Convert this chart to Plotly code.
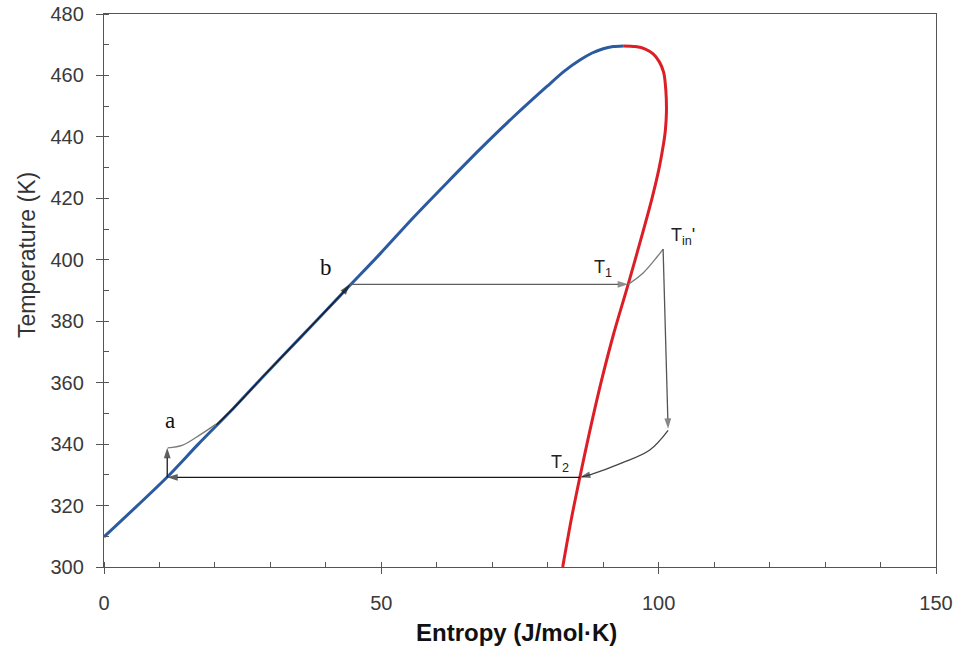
import plotly.graph_objects as go

# Saturated liquid (blue) and saturated vapour (red) curves
s_liq = [0, 11.4, 17, 23.3, 29, 35.3, 40, 44.3, 49.8, 55.7, 61.8, 67.8, 73.7, 79.9, 83.0, 85.8, 88.0, 90.0, 91.8, 93.6]
T_liq = [309.8, 329.3, 340, 351.6, 362.6, 374.5, 383.4, 391.6, 402.0, 413.6, 425.0, 436.0, 446.3, 456.5, 461.4, 465.0, 467.3, 468.7, 469.4, 469.6]

s_vap = [93.6, 95.8, 97.6, 99.0, 100.1, 100.9, 101.3, 101.4, 101.2, 100.9, 100.1, 98.8, 97.0, 94.5, 91.9, 89.6, 87.5, 85.8, 84.3, 82.7]
T_vap = [469.6, 469.4, 468.6, 467.0, 464.5, 461.0, 455.0, 448.0, 442.0, 438.0, 430.0, 420.0, 408.0, 392.0, 376.0, 360.0, 343.6, 329.3, 316.0, 300.0]

# Cycle state points
T1 = (94.5, 392.0)
T2 = (85.8, 329.2)
b_pt = (44.3, 392.0)
a_low = (11.4, 329.2)
a_top = (11.4, 338.8)
Tin_pk = (100.8, 403.5)
drop_end = (101.7, 345.0)

# Connector curves
s_t1_tin = [94.5, 97.2, 99.7, 100.8]
T_t1_tin = [392.0, 395.7, 400.9, 403.5]
s_drop_t2 = [101.7, 98.4, 93.4, 87.6, 86.2]
T_drop_t2 = [344.5, 338.1, 333.9, 330.0, 329.3]
s_a_curve = [11.5, 14.2, 17.3, 20.2]
T_a_curve = [338.8, 339.7, 343.0, 346.5]
s_ab = [20.2, 23.3, 29, 35.3, 40, 43.3]
T_ab = [346.2, 351.6, 362.6, 374.5, 383.4, 389.7]

x_ticks = [0, 50, 100, 150]
y_ticks = [300, 320, 340, 360, 380, 400, 420, 440, 460, 480]

BLUE = "#2c5aa0"
RED = "#dc1f26"
GRAY = "#7a7a7a"
DARK = "#1a1a1a"

fig = go.Figure()
fig.add_trace(go.Scatter(x=s_liq, y=T_liq, mode="lines",
                         line=dict(color=BLUE, width=3, shape="spline", smoothing=0.8), hoverinfo="skip"))
fig.add_trace(go.Scatter(x=s_vap, y=T_vap, mode="lines",
                         line=dict(color=RED, width=3, shape="spline", smoothing=0.8), hoverinfo="skip"))
# overlay path a->b along liquid line
fig.add_trace(go.Scatter(x=s_ab, y=T_ab, mode="lines",
                         line=dict(color=DARK, width=1.2, shape="spline"), hoverinfo="skip"))
fig.add_trace(go.Scatter(x=s_t1_tin, y=T_t1_tin, mode="lines",
                         line=dict(color=GRAY, width=1.3, shape="spline"), hoverinfo="skip"))
fig.add_trace(go.Scatter(x=s_drop_t2, y=T_drop_t2, mode="lines",
                         line=dict(color="#444444", width=1.3, shape="spline"), hoverinfo="skip"))
fig.add_trace(go.Scatter(x=s_a_curve, y=T_a_curve, mode="lines",
                         line=dict(color=GRAY, width=1.3, shape="spline"), hoverinfo="skip"))


def arrow(head, tail, color, width=1.3, size=11, line=True):
    fig.add_trace(go.Scatter(
        x=[tail[0], head[0]], y=[tail[1], head[1]],
        mode="lines+markers" if line else "markers",
        line=dict(color=color, width=width),
        marker=dict(symbol="arrow", size=[0, size], angleref="previous", color=color,
                    line=dict(width=0)),
        hoverinfo="skip"))


# b -> T1 horizontal
arrow(T1, b_pt, "#5e5e5e")
# T2 -> a_low horizontal
arrow(a_low, T2, DARK)
# a_low -> a_top vertical
arrow(a_top, a_low, DARK)
# Tin' peak -> drop end vertical
arrow(drop_end, Tin_pk, "#555555")
# arrowhead at T2 from curve
arrow(T2, (s_drop_t2[-2], T_drop_t2[-2]), "#333333", line=False)
# arrowhead at b along the curve
arrow(b_pt, (s_ab[-1], T_ab[-1]), DARK, line=False)

W, H = 961, 651
ML, MT, MR, MB = 104, 14, 25, 84
pw, ph = W - ML - MR, H - MT - MB


def px(x_page):
    return (x_page - ML) / pw


def py(y_page):
    return (H - MB - y_page) / ph


# Labels
serif = dict(family="Liberation Serif, Times New Roman, serif", size=23, color="#111111")
sans = dict(family="Liberation Sans, Arial, sans-serif", size=18, color="#222222")
fig.add_annotation(x=11.9, y=347.8, text="a", showarrow=False, font=serif)
fig.add_annotation(x=40.0, y=397.5, text="b", showarrow=False, font=serif)
fig.add_annotation(x=90.0, y=397.0, text="T<sub>1</sub>", showarrow=False, font=sans)
fig.add_annotation(x=82.2, y=333.6, text="T<sub>2</sub>", showarrow=False, font=sans)
fig.add_annotation(x=104.4, y=407.6, text="T<sub>in</sub>'", showarrow=False, font=sans)

fig.add_annotation(x=px(27), y=py(255), xref="paper", yref="paper", text="Temperature (K)",
                   showarrow=False, textangle=-90, xanchor="center", yanchor="middle",
                   font=dict(family="Liberation Sans, Arial", size=23, color="#333333"))
fig.add_annotation(x=px(516), y=py(632), xref="paper", yref="paper",
                   text="<b>Entropy (J/mol·K)</b>", showarrow=False,
                   xanchor="center", yanchor="middle",
                   font=dict(family="Liberation Sans, Arial", size=24, color="#111111"))

axis_common = dict(showgrid=False, zeroline=False, showline=True, linecolor="#555555", linewidth=1.3,
                   mirror=True, ticks="outside", tickcolor="#555555", automargin=False,
                   ticklabeloverflow="allow",
                   tickfont=dict(size=20, color="#3a3a3a"), fixedrange=True)

fig.update_layout(
    width=W, height=H,
    margin=dict(l=ML, r=MR, t=MT, b=MB, autoexpand=False),
    paper_bgcolor="white", plot_bgcolor="white",
    showlegend=False,
    font=dict(family="Liberation Sans, Arial, sans-serif", color="#333333"),
    xaxis=dict(range=[0, 150], tickvals=x_ticks, ticktext=[str(v) for v in x_ticks], ticklen=6,
               ticklabelstandoff=12,
               minor=dict(dtick=10, ticks="inside", ticklen=5, tickcolor="#555555", showgrid=False),
               **axis_common),
    yaxis=dict(range=[300, 480], tickvals=y_ticks, ticktext=[str(v) for v in y_ticks], ticklen=7,
               ticklabelstandoff=8,
               minor=dict(dtick=10, ticks="inside", ticklen=5, tickcolor="#555555", showgrid=False),
               **axis_common),
)

fig.write_html("out.html", config={"displayModeBar": False},
               post_script="document.body.style.margin='0';")
